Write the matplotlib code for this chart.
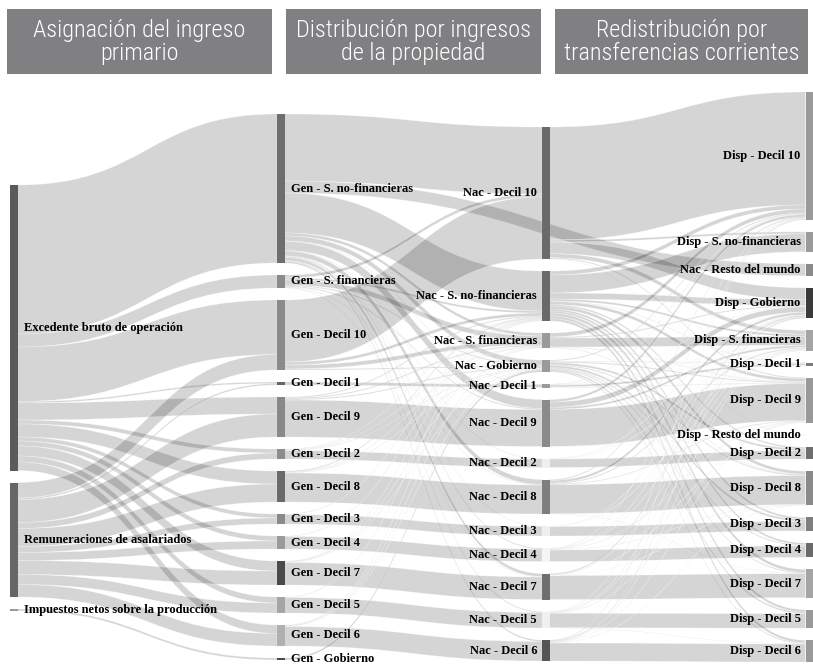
import matplotlib.pyplot as plt
from matplotlib.path import Path
from matplotlib.patches import PathPatch, Rectangle

# ---- nodes, one list per column (top to bottom) ----
col0_ids = ["EBO", "REM", "IMP"]
col1_ids = ["G_Snf", "G_Sf", "G_D10", "G_D1", "G_D9", "G_D2", "G_D8", "G_D3",
            "G_D4", "G_D7", "G_D5", "G_D6", "G_Gob"]
col2_ids = ["N_D10", "N_Snf", "N_Sf", "N_Gob", "N_D1", "N_D9", "N_D2", "N_D8",
            "N_D3", "N_D4", "N_D7", "N_D5", "N_D6"]
col3_ids = ["D_D10", "D_Snf", "N_Resto", "D_Gob", "D_Sf", "D_D1", "D_D9", "D_Resto",
            "D_D2", "D_D8", "D_D3", "D_D4", "D_D7", "D_D5", "D_D6"]

node_labels = {
    "EBO": "Excedente bruto de operación",
    "REM": "Remuneraciones de asalariados",
    "IMP": "Impuestos netos sobre la producción",
    "G_Snf": "Gen - S. no-financieras", "G_Sf": "Gen - S. financieras",
    "G_D10": "Gen - Decil 10", "G_D1": "Gen - Decil 1", "G_D9": "Gen - Decil 9",
    "G_D2": "Gen - Decil 2", "G_D8": "Gen - Decil 8", "G_D3": "Gen - Decil 3",
    "G_D4": "Gen - Decil 4", "G_D7": "Gen - Decil 7", "G_D5": "Gen - Decil 5",
    "G_D6": "Gen - Decil 6", "G_Gob": "Gen - Gobierno",
    "N_D10": "Nac - Decil 10", "N_Snf": "Nac - S. no-financieras",
    "N_Sf": "Nac - S. financieras", "N_Gob": "Nac - Gobierno", "N_D1": "Nac - Decil 1",
    "N_D9": "Nac - Decil 9", "N_D2": "Nac - Decil 2", "N_D8": "Nac - Decil 8",
    "N_D3": "Nac - Decil 3", "N_D4": "Nac - Decil 4", "N_D7": "Nac - Decil 7",
    "N_D5": "Nac - Decil 5", "N_D6": "Nac - Decil 6",
    "D_D10": "Disp - Decil 10", "D_Snf": "Disp - S. no-financieras",
    "N_Resto": "Nac - Resto del mundo", "D_Gob": "Disp - Gobierno",
    "D_Sf": "Disp - S. financieras", "D_D1": "Disp - Decil 1", "D_D9": "Disp - Decil 9",
    "D_Resto": "Disp - Resto del mundo", "D_D2": "Disp - Decil 2", "D_D8": "Disp - Decil 8",
    "D_D3": "Disp - Decil 3", "D_D4": "Disp - Decil 4", "D_D7": "Disp - Decil 7",
    "D_D5": "Disp - Decil 5", "D_D6": "Disp - Decil 6",
}

node_colors = {
    "EBO": "#5a5a5a", "REM": "#666666", "IMP": "#9a9a9a",
    "G_Snf": "#6e6e6e", "G_Sf": "#8a8a8a", "G_D10": "#8a8a8a", "G_D1": "#666666",
    "G_D9": "#888888", "G_D2": "#8c8c8c", "G_D8": "#6a6a6a", "G_D3": "#8a8a8a",
    "G_D4": "#9a9a9a", "G_D7": "#4a4a4a", "G_D5": "#a5a5a5", "G_D6": "#b0b0b0",
    "G_Gob": "#4a4a4a",
    "N_D10": "#6a6a6a", "N_Snf": "#6a6a6a", "N_Sf": "#9a9a9a", "N_Gob": "#9a9a9a",
    "N_D1": "#9a9a9a", "N_D9": "#8a8a8a", "N_D2": "#f0f0f0", "N_D8": "#7e7e7e",
    "N_D3": "#efefef", "N_D4": "#f5f5f5", "N_D7": "#6e6e6e", "N_D5": "#f0f0f0",
    "N_D6": "#555555",
    "D_D10": "#9a9a9a", "D_Snf": "#9a9a9a", "N_Resto": "#8a8a8a", "D_Gob": "#3a3a3a",
    "D_Sf": "#a5a5a5", "D_D1": "#7a7a7a", "D_D9": "#999999", "D_Resto": "#999999",
    "D_D2": "#6e6e6e", "D_D8": "#8a8a8a", "D_D3": "#7e7e7e", "D_D4": "#6a6a6a",
    "D_D7": "#a5a5a5", "D_D5": "#999999", "D_D6": "#9a9a9a",
}

# ---- flows ----
link_src = (
    ["EBO"] * 12 + ["REM"] * 10 + ["IMP"]
    + ["G_Snf"] * 14 + ["G_Sf"] * 7 + ["G_D10"] * 4 + ["G_D1"] + ["G_D9"] * 4
    + ["G_D2"] * 4 + ["G_D8"] * 4 + ["G_D3"] * 2 + ["G_D4"] * 2 + ["G_D7"] * 4
    + ["G_D5"] * 2 + ["G_D6"] * 4 + ["G_Gob"]
    + ["N_D10"] * 6 + ["N_Snf"] * 13 + ["N_Sf"] * 5 + ["N_Gob"] * 10 + ["N_D1"] * 5
    + ["N_D9"] * 5 + ["N_D2"] * 3 + ["N_D8"] * 6 + ["N_D3"] * 3 + ["N_D4"] * 6
    + ["N_D7"] * 5 + ["N_D5"] * 6 + ["N_D6"] * 6
)
link_tgt = [
    # Asignación del ingreso primario
    "G_Snf", "G_Sf", "G_D10", "G_D1", "G_D9", "G_D2", "G_D8", "G_D3", "G_D4", "G_D7", "G_D5", "G_D6",
    "G_D10", "G_D1", "G_D9", "G_D2", "G_D8", "G_D3", "G_D4", "G_D7", "G_D5", "G_D6",
    "G_Gob",
    # Distribución por ingresos de la propiedad
    "N_D10", "N_Resto", "N_Snf", "N_Sf", "N_Gob", "N_D1", "N_D9", "N_D2", "N_D8", "N_D3",
    "N_D4", "N_D7", "N_D5", "N_D6",
    "N_D10", "N_Snf", "N_Sf", "N_Gob", "N_D9", "N_D8", "N_D7",
    "N_D10", "N_Snf", "N_Sf", "N_Gob",
    "N_D1",
    "N_D9", "N_Snf", "N_Sf", "N_Gob",
    "N_D2", "N_Snf", "N_Sf", "N_Gob",
    "N_D8", "N_Snf", "N_Sf", "N_Gob",
    "N_D3", "N_Snf",
    "N_D4", "N_Snf",
    "N_D7", "N_Snf", "N_Sf", "N_Gob",
    "N_D5", "N_Snf",
    "N_D6", "N_Snf", "N_Sf", "N_Gob",
    "N_Gob",
    # Redistribución por transferencias corrientes
    "D_D10", "D_Snf", "D_Gob", "D_Sf", "D_D9", "D_Resto",
    "D_D10", "D_Snf", "D_Gob", "D_Sf", "D_D9", "D_D8", "D_D7", "D_D6", "D_D5", "D_D4",
    "D_D3", "D_D2", "D_D1",
    "D_D10", "D_Sf", "D_Gob", "D_D9", "D_D8",
    "D_D10", "D_D9", "D_D8", "D_D7", "D_D6", "D_D5", "D_D4", "D_D3", "D_D2", "D_D1",
    "D_D1", "D_Gob", "D_Sf", "D_D10", "D_D9",
    "D_D9", "D_Gob", "D_Sf", "D_D10", "D_Resto",
    "D_D2", "D_Gob", "D_Sf",
    "D_D8", "D_Gob", "D_Sf", "D_D10", "D_D9", "D_D7",
    "D_D3", "D_Gob", "D_Sf",
    "D_D4", "D_Gob", "D_Sf", "D_D10", "D_D9", "D_D8",
    "D_D7", "D_Gob", "D_Sf", "D_D8", "D_Resto",
    "D_D5", "D_Gob", "D_Sf", "D_D10", "D_D9", "D_D6",
    "D_D6", "D_Gob", "D_Sf", "D_D10", "D_D9", "D_D8",
]
link_val = [
    149, 13, 54.5, 1.5, 17, 4, 13, 4, 5, 10, 6, 8.5,
    15.5, 1.5, 23, 6, 18, 6, 8, 14, 10, 12.5,
    2,
    67, 12, 40, 3, 5, 0.5, 9, 0.5, 5, 0.5, 1, 3, 1, 1.5,
    3, 2, 5, 1, 1, 0.5, 0.5,
    62, 3, 4, 1,
    3,
    37, 1, 1, 1,
    8.5, 0.5, 0.5, 0.5,
    29, 1, 0.5, 0.5,
    9.5, 0.5,
    12.5, 0.5,
    22.5, 0.5, 0.5, 0.5,
    15.5, 0.5,
    19.5, 0.5, 0.5, 0.5,
    2,
    113, 2, 11.7, 4, 1, 0.3,
    4, 18, 6, 2, 3, 3, 3, 2.5, 2.5, 2, 2, 1.5, 0.5,
    4, 9, 1, 0.5, 0.5,
    1, 1, 1, 1, 1, 1.5, 1, 2, 2, 0.5,
    2, 0.3, 0.2, 0.5, 0.5,
    37, 5.3, 2, 2.5, 0.2,
    8.5, 0.3, 0.2,
    29, 2.5, 1, 1, 0.7, 0.3,
    9.5, 0.3, 0.2,
    11.5, 0.4, 0.3, 0.5, 0.5, 0.3,
    24, 1.2, 0.5, 0.2, 0.1,
    14.5, 0.5, 0.3, 0.5, 0.4, 0.3,
    18, 1, 0.5, 0.8, 0.4, 0.3,
]

stage_titles = ["Asignación del ingreso\nprimario",
                "Distribución por ingresos\nde la propiedad",
                "Redistribución por\ntransferencias corrientes"]

# ---- layout settings ----
columns = [col0_ids, col1_ids, col2_ids, col3_ids]
col_x = [10, 277, 542, 805.5]
col_top = [185, 114, 127, 92]
node_w = 7.5
node_pad = 12
scale = 1.0

links = list(zip(link_src, link_tgt, link_val))
node_in = {n: 0.0 for n in node_labels}
node_out = {n: 0.0 for n in node_labels}
for s, t, v in links:
    node_out[s] += v
    node_in[t] += v
node_val = {n: max(node_in[n], node_out[n]) for n in node_labels}

node_x, node_y = {}, {}
for c, ids in enumerate(columns):
    y = col_top[c]
    for n in ids:
        node_x[n] = col_x[c]
        node_y[n] = y
        y += node_val[n] * scale + node_pad

fig = plt.figure(figsize=(8.13, 6.65), dpi=100)
ax = fig.add_axes([0, 0, 1, 1])
ax.set_xlim(0, 813)
ax.set_ylim(665, 0)
ax.axis("off")

# links, stacked at each node in order of the other end's position
out_off = {n: 0.0 for n in node_labels}
in_off = {n: 0.0 for n in node_labels}
out_sorted = sorted(range(len(links)), key=lambda i: (node_y[links[i][1]], node_x[links[i][1]]))
src_pos = {}
for i in out_sorted:
    s, t, v = links[i]
    src_pos[i] = node_y[s] + out_off[s]
    out_off[s] += v * scale
in_sorted = sorted(range(len(links)), key=lambda i: (node_y[links[i][0]], node_x[links[i][0]]))
tgt_pos = {}
for i in in_sorted:
    s, t, v = links[i]
    tgt_pos[i] = node_y[t] + in_off[t]
    in_off[t] += v * scale

for i, (s, t, v) in enumerate(links):
    h = v * scale
    x0 = node_x[s] + node_w
    x1 = node_x[t]
    xm = (x0 + x1) / 2
    ys, yt = src_pos[i], tgt_pos[i]
    verts = [(x0, ys), (xm, ys), (xm, yt), (x1, yt),
             (x1, yt + h), (xm, yt + h), (xm, ys + h), (x0, ys + h), (x0, ys)]
    codes = [Path.MOVETO, Path.CURVE4, Path.CURVE4, Path.CURVE4,
             Path.LINETO, Path.CURVE4, Path.CURVE4, Path.CURVE4, Path.CLOSEPOLY]
    ax.add_patch(PathPatch(Path(verts, codes), facecolor=(0, 0, 0, 0.165),
                           edgecolor=(1, 1, 1, 0.45), linewidth=0.4, zorder=1))

# nodes and labels
for c, ids in enumerate(columns):
    for n in ids:
        h = max(node_val[n] * scale, 0.6)
        ax.add_patch(Rectangle((node_x[n], node_y[n]), node_w, h,
                               facecolor=node_colors[n], edgecolor="none", zorder=2))
        yc = node_y[n] + h / 2
        if c < 2:
            ax.text(node_x[n] + node_w + 6, yc, node_labels[n], ha="left", va="center",
                    fontsize=9, fontweight="bold", family="Liberation Serif", zorder=3)
        else:
            ax.text(node_x[n] - 5, yc, node_labels[n], ha="right", va="center",
                    fontsize=9, fontweight="bold", family="Liberation Serif", zorder=3)

# stage headers
box_x = [7, 286, 555]
box_w = [265, 255, 253]
header_fonts = ["Roboto Condensed", "Liberation Sans Narrow", "Roboto"]
for bx, bw, title in zip(box_x, box_w, stage_titles):
    ax.add_patch(Rectangle((bx, 9), bw, 65, facecolor="#808083", edgecolor="none", zorder=4))
    ax.text(bx + bw / 2, 42, title, ha="center", va="center", color="white",
            fontsize=17.5, linespacing=1.0, family=header_fonts, fontweight="light",
            fontstretch="condensed", zorder=5)

fig.savefig("out.png", dpi=100, facecolor="white")
